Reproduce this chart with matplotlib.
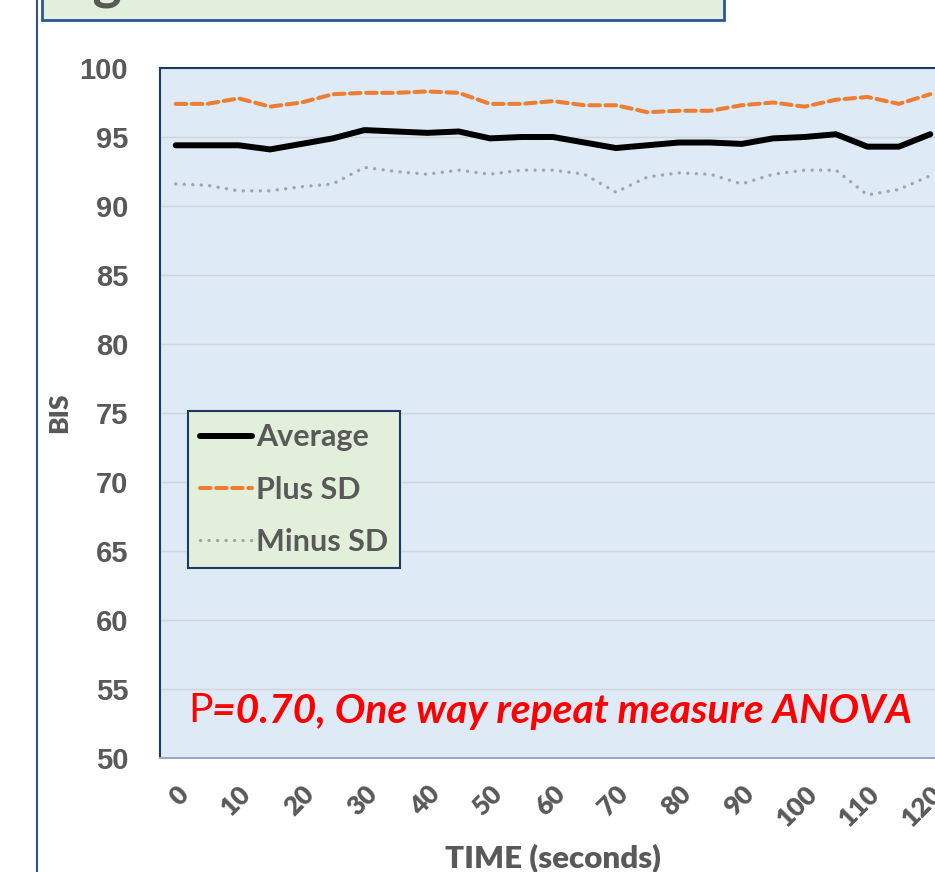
import numpy as np
import matplotlib
matplotlib.use('Agg')
import matplotlib.pyplot as plt
from matplotlib.patches import Rectangle
from matplotlib.lines import Line2D

# Données (BIS toutes les 5 secondes)
time_s = list(range(0, 125, 5))
average = [94.4, 94.4, 94.4, 94.1, 94.5, 94.9, 95.5, 95.4, 95.3, 95.4, 94.9, 95.0,
           95.0, 94.6, 94.2, 94.4, 94.6, 94.6, 94.5, 94.9, 95.0, 95.2, 94.3, 94.3, 95.2]
plus_sd = [97.4, 97.4, 97.8, 97.2, 97.5, 98.1, 98.2, 98.2, 98.3, 98.2, 97.4, 97.4,
           97.6, 97.3, 97.3, 96.8, 96.9, 96.9, 97.3, 97.5, 97.2, 97.7, 97.9, 97.4, 98.1]
minus_sd = [91.6, 91.5, 91.1, 91.1, 91.4, 91.6, 92.8, 92.5, 92.3, 92.6, 92.3, 92.6,
            92.6, 92.3, 91.0, 92.1, 92.4, 92.3, 91.6, 92.3, 92.6, 92.6, 90.8, 91.2, 92.2]
x_ticks = list(range(0, 121, 10))
y_ticks = list(range(50, 101, 5))

gray_txt = '#595959'
calibri = 'Lato'

fig = plt.figure(figsize=(9.35, 8.72), dpi=100)
ax = fig.add_axes([160 / 935, 1 - 758 / 872, 786 / 935, 690 / 872])
ax.set_facecolor('#DEEAF6')

# Courbes
ax.plot(time_s, average, color='black', linewidth=4.3, solid_capstyle='round',
        solid_joinstyle='round', label='Average', zorder=4)
ax.plot(time_s, plus_sd, color='#ED7D31', linewidth=2.9, linestyle=(0, (2.6, 1.4)),
        dash_capstyle='round', label='Plus SD', zorder=3)
ax.plot(time_s, minus_sd, color='#A5A5A5', linewidth=2.4, linestyle=(0, (0.05, 2.5)),
        dash_capstyle='round', label='Minus SD', zorder=3)

ax.set_xlim(-2.5, 122.5)
ax.set_ylim(50, 100)
ax.set_xticks(x_ticks)
ax.set_xticklabels([str(t) for t in x_ticks], rotation=45, ha='right', va='top',
                   rotation_mode='anchor', fontsize=19, fontweight='heavy',
                   color=gray_txt, family=calibri)
ax.set_yticks(y_ticks)
ax.set_yticklabels([str(v) for v in y_ticks], fontsize=21, fontweight='bold',
                   color=gray_txt, family='Liberation Sans')
ax.tick_params(axis='both', length=0)
ax.tick_params(axis='y', pad=23)
ax.tick_params(axis='x', pad=17)
ax.yaxis.grid(True, color='#D0D5DC', linewidth=1.0)
ax.set_axisbelow(True)

for side in ['left', 'top', 'right']:
    ax.spines[side].set_color('#1F3864')
    ax.spines[side].set_linewidth(1.5)
ax.spines['bottom'].set_color('#9AAAC4')
ax.spines['bottom'].set_linewidth(1.5)

ax.set_ylabel('BIS', fontsize=19, fontweight='heavy', color=gray_txt, family=calibri,
              labelpad=6)
ax.set_xlabel('TIME (seconds)', fontsize=22.5, fontweight='heavy', color=gray_txt,
              family=calibri, labelpad=9)

# Légende
leg = ax.legend(loc='upper left', bbox_to_anchor=(28 / 786, 1 - (411 - 68) / 690),
                prop={'family': calibri, 'weight': 'bold', 'size': 22},
                frameon=True, fancybox=False, handlelength=1.7, handletextpad=0.12,
                labelspacing=0.8, borderpad=0.4, borderaxespad=0)
leg.get_frame().set_facecolor('#E2EFDA')
leg.get_frame().set_edgecolor('#1F3864')
leg.get_frame().set_linewidth(1.5)
leg.get_frame().set_alpha(1)
for t in leg.get_texts():
    t.set_color(gray_txt)

# Annotation statistique
p_txt = ax.text(28 / 786, (758 - 711) / 690, 'P', transform=ax.transAxes,
                fontsize=29.3, color='#FF0000', family=calibri, va='center', ha='left')
ax.annotate('=0.70, One way repeat measure ANOVA', xy=(1, 0), xycoords=p_txt,
            fontsize=29.3, color='#FF0000', family=calibri, fontweight='bold',
            fontstyle='italic', va='bottom', ha='left')

# Cadre du titre (coupé en haut)
fig.patches.append(Rectangle((42 / 935, 1 - 20 / 872), (724 - 42) / 935, 0.1,
                             transform=fig.transFigure, facecolor='#E2EFDA',
                             edgecolor='#2F5597', linewidth=2, zorder=1))
fig.text(47 / 935, 1 + 2 / 872, 'Figure 4: BIS over the time', fontsize=40,
         fontweight='bold', color=gray_txt, family=calibri, va='baseline', ha='left')
fig.add_artist(Line2D([37 / 935, 37 / 935], [0, 1], transform=fig.transFigure,
                      color='#2F4F8F', linewidth=1.5))

fig.savefig('out.png', dpi=100)
